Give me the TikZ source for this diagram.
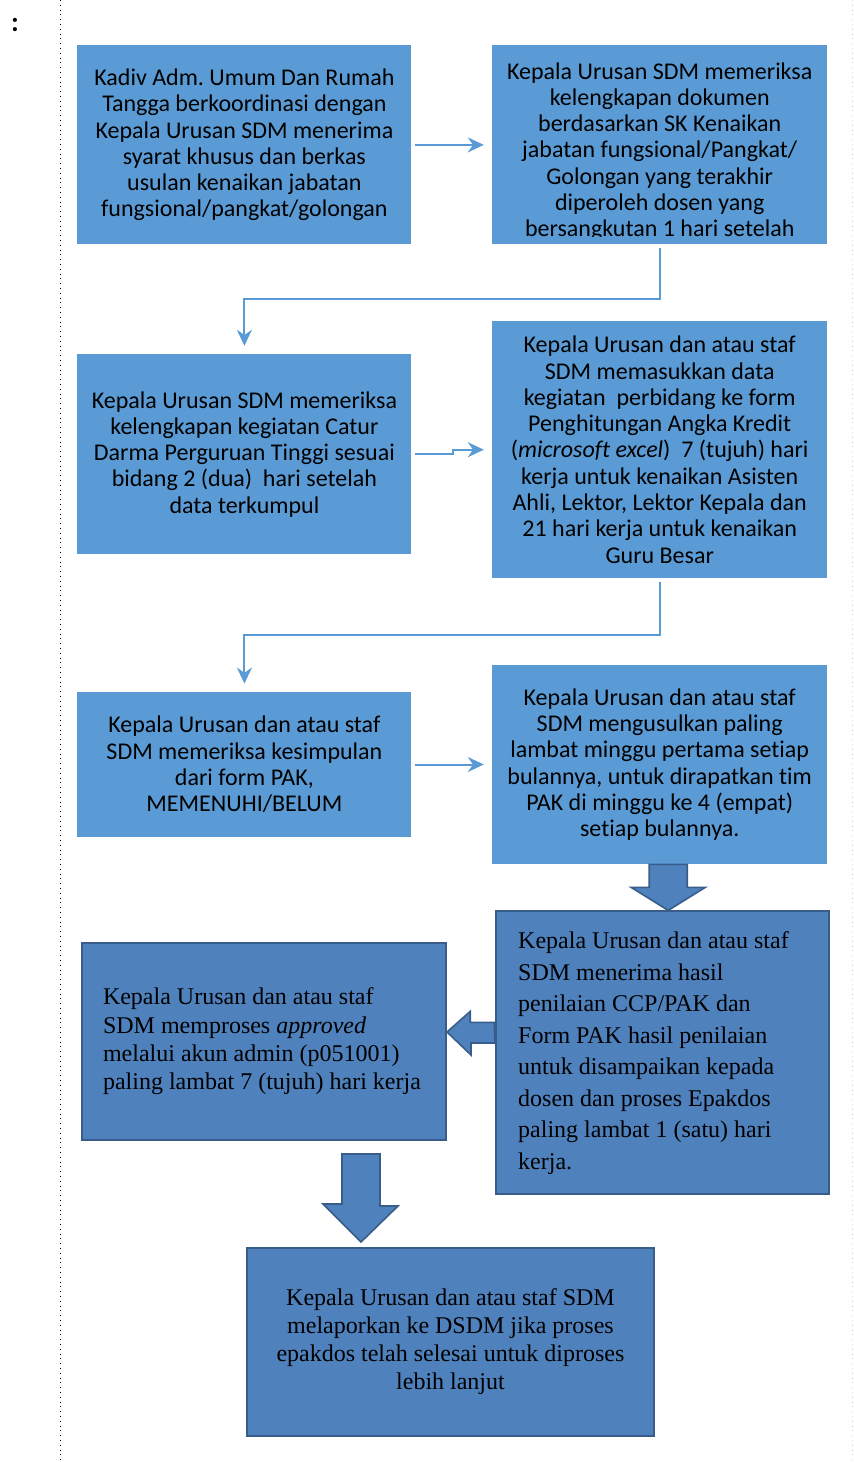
\documentclass[tikz,border=0pt]{standalone}
\usepackage{fontspec}
\setmainfont{Liberation Serif}
\newfontfamily\calibri[RawFeature={-liga;-clig;-calt;-dlig}]{Carlito}
\usepackage{tikz}
\usetikzlibrary{positioning,calc,arrows.meta}
\definecolor{lightbox}{HTML}{5B9BD5}
\definecolor{darkbox}{HTML}{4F81BD}
\definecolor{darkline}{HTML}{385D8A}
\frenchspacing

\begin{document}
\begin{tikzpicture}[x=0.5pt,y=-0.5pt]
\tikzset{lbox/.style={rectangle,fill=lightbox,inner sep=0pt,minimum width=167pt,
		font=\calibri\fontsize{12}{13.15}\selectfont,align=flush center},
	dbox/.style={rectangle,fill=darkbox,draw=darkline,line width=1pt,inner ysep=0pt,
		font=\fontsize{12}{14.2}\selectfont},
	conn/.style={draw=lightbox,line width=1pt,-{Stealth[length=8pt,width=7.5pt]},
		shorten <=1.5pt,shorten >=4pt},
	barrow/.style={fill=darkbox,draw=darkline,line width=0.8pt,line join=miter}}

\useasboundingbox (0,0) rectangle (853,1462);

\node[font=\calibri\bfseries\fontsize{14}{14}\selectfont] (colon) at (15,25) {:};
\draw[dotted] (60,0) -- (60,1462);
\draw[dotted,gray!35] (852,0) -- (852,1462);

\node[lbox,minimum height=99.5pt,anchor=north west] (kadiv) at (77,45)
{Kadiv Adm. Umum Dan Rumah\\Tangga berkoordinasi dengan\\Kepala Urusan SDM menerima\\
	syarat khusus dan berkas\\usulan kenaikan jabatan\\fungsional/pangkat/golongan};

\node[lbox,minimum width=167.5pt,minimum height=99.5pt] (periksa) [right=40pt of kadiv] {};
\begin{scope}
\clip (periksa.north west) rectangle ($(periksa.south east)+(0,-8)$);
\node[lbox,fill=none,anchor=north] (periksatxt) at ($(periksa.north)+(0,17)$)
{Kepala Urusan SDM memeriksa\\kelengkapan dokumen\\berdasarkan SK Kenaikan\\
	jabatan fungsional/Pangkat/\\Golongan yang terakhir\\diperoleh dosen yang\\
	bersangkutan 1 hari setelah};
\end{scope}

\node[lbox,minimum height=100pt] (catur) [below=54.5pt of kadiv]
{Kepala Urusan SDM memeriksa\\kelengkapan kegiatan Catur\\Darma Perguruan Tinggi sesuai\\
	bidang 2 (dua) \ hari setelah\\data terkumpul};

\node[lbox,minimum width=167.5pt,minimum height=128.5pt] (hitung) [below=38pt of periksa]
{Kepala Urusan dan atau staf\\SDM memasukkan data\\kegiatan \ perbidang ke form\\
	Penghitungan Angka Kredit\\(\textit{microsoft excel}) \ 7 (tujuh) hari\\
	kerja untuk kenaikan Asisten\\Ahli, Lektor, Lektor Kepala dan\\
	21 hari kerja untuk kenaikan\\Guru Besar};

\node[lbox,minimum height=72.5pt] (simpul) [below=68.5pt of catur]
{Kepala Urusan dan atau staf\\SDM memeriksa kesimpulan\\dari form PAK,\\MEMENUHI/BELUM};

\node[lbox,minimum width=167.5pt,minimum height=99.5pt] (usul) [below=43pt of hitung]
{Kepala Urusan dan atau staf\\SDM mengusulkan paling\\lambat minggu pertama setiap\\
	bulannya, untuk dirapatkan tim\\PAK di minggu ke 4 (empat)\\setiap bulannya.};

\node[dbox,inner xsep=11pt,text width=144.5pt,minimum height=141.5pt,align=flush left,
	font=\fontsize{12}{15.75}\selectfont] (terima) [below=23pt of usul,xshift=1.5pt]
{Kepala Urusan dan atau staf\\SDM menerima hasil\\penilaian CCP/PAK dan\\
	Form PAK hasil penilaian\\untuk disampaikan kepada\\dosen dan proses Epakdos\\
	paling lambat 1 (satu) hari\\kerja.};

\node[dbox,inner xsep=10.5pt,text width=161pt,minimum height=98.5pt,align=flush left] (proses) at (264,1041.5)
{Kepala Urusan dan atau staf\\SDM memproses \textit{approved}\\
	melalui akun admin (p051001)\\paling lambat 7 (tujuh) hari kerja};

\node[dbox,minimum width=203.5pt,minimum height=94pt,align=flush center,
	font=\fontsize{12}{14}\selectfont] (lapor) at (450.5,1342)
{Kepala Urusan dan atau staf SDM\\melaporkan ke DSDM jika proses\\
	epakdos telah selesai untuk diproses\\lebih lanjut};

\draw[conn] (kadiv) -- (periksa);
\draw[conn] (periksa.south) -- ++(0,54) -| (catur.north);
\draw[conn] (catur.east) -- ++(41,0) |- (hitung.west);
\draw[conn] (hitung.south) -- ++(0,56) -| (simpul.north);
\draw[conn] (simpul) -- (usul);

\draw[barrow] ($(usul.south)+(-10.5,0)$) -- ++(38,0) -- ++(0,23) -- ++(18,0)
	-- ($(terima.north)+(5.5,0)$) -- ++(-37,-23) -- ++(18,0) -- cycle;
\draw[barrow] ($(terima.west)+(-1,-30.5)$) -- ++(-24,0) -- ++(0,-11)
	-- ($(proses.east)+(0,-9.5)$) -- ++(24,23) -- ++(0,-12) -- ++(24,0) -- cycle;
\draw[barrow] ($(proses.south)+(78,13)$) -- ++(38,0) -- ++(0,52) -- ++(18,0)
	-- ($(lapor.north)+(-89.5,-5)$) -- ++(-38,-38) -- ++(19,0) -- cycle;
\end{tikzpicture}
\end{document}
